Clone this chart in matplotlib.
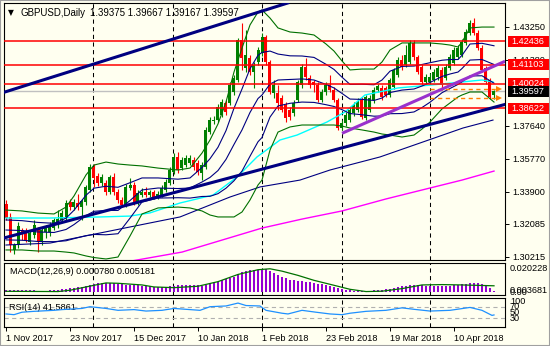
import numpy as np
import matplotlib
matplotlib.use("Agg")
import matplotlib.pyplot as plt
from matplotlib.patches import Rectangle

plt.rcParams['font.family'] = ['Liberation Sans', 'DejaVu Sans']
plt.rcParams['lines.scale_dashes'] = False

# ---------------- data ----------------
symbol = "GBPUSD,Daily"
quote = "1.39375 1.39667 1.39167 1.39597"

date_labels = ["1 Nov 2017", "23 Nov 2017", "15 Dec 2017", "10 Jan 2018",
               "1 Feb 2018", "23 Feb 2018", "19 Mar 2018", "10 Apr 2018"]
date_bars = [0, 16, 32, 48, 64, 80, 96, 112]
grid_bars = [21.8, 41.8, 64, 84, 106]

opens = [1.3320, 1.3247, 1.3060, 1.3088, 1.3173, 1.3167, 1.3105, 1.3145, 1.3173, 1.3105,
         1.3162, 1.3162, 1.3184, 1.3207, 1.3230, 1.3241, 1.3332, 1.3303, 1.3326, 1.3303,
         1.3332, 1.3400, 1.3530, 1.3479, 1.3439, 1.3439, 1.3388, 1.3473, 1.3388, 1.3343,
         1.3315, 1.3411, 1.3428, 1.3326, 1.3371, 1.3388, 1.3371, 1.3388, 1.3360, 1.3371,
         1.3400, 1.3439, 1.3502, 1.3587, 1.3524, 1.3541, 1.3553, 1.3570, 1.3553, 1.3496,
         1.3530, 1.3728, 1.3791, 1.3796, 1.3825, 1.3893, 1.3893, 1.3955, 1.4023, 1.4250,
         1.4091, 1.4148, 1.4068, 1.4125, 1.4176, 1.4267, 1.4125, 1.3949, 1.3949, 1.3921,
         1.3881, 1.3853, 1.3836, 1.3910, 1.3995, 1.4097, 1.4034, 1.4012, 1.3995, 1.3910,
         1.3955, 1.3995, 1.3966, 1.3910, 1.3751, 1.3779, 1.3796, 1.3836, 1.3853, 1.3910,
         1.3808, 1.3853, 1.3910, 1.3966, 1.3978, 1.3978, 1.3938, 1.3983, 1.4051, 1.4136,
         1.4108, 1.4125, 1.4233, 1.4153, 1.4097, 1.4012, 1.4012, 1.4023, 1.4040, 1.4080,
         1.4034, 1.4091, 1.4119, 1.4153, 1.4165, 1.4233, 1.4289, 1.4346, 1.4289, 1.4204,
         1.4091, 1.4023, 1.39375]
highs = [1.3343, 1.3269, 1.3099, 1.3218, 1.3184, 1.3184, 1.3167, 1.3230, 1.3190, 1.3184,
         1.3201, 1.3218, 1.3241, 1.3286, 1.3286, 1.3343, 1.3349, 1.3349, 1.3377, 1.3349,
         1.3428, 1.3547, 1.3547, 1.3496, 1.3490, 1.3456, 1.3485, 1.3496, 1.3405, 1.3360,
         1.3434, 1.3468, 1.3445, 1.3400, 1.3411, 1.3417, 1.3400, 1.3400, 1.3394, 1.3428,
         1.3462, 1.3530, 1.3609, 1.3615, 1.3587, 1.3598, 1.3598, 1.3587, 1.3570, 1.3558,
         1.3757, 1.3813, 1.3819, 1.3887, 1.3915, 1.3910, 1.4012, 1.4051, 1.4261, 1.4346,
         1.4306, 1.4165, 1.4125, 1.4210, 1.4289, 1.4278, 1.4136, 1.4023, 1.3995, 1.3938,
         1.3898, 1.3870, 1.3910, 1.4023, 1.4114, 1.4148, 1.4051, 1.4023, 1.4012, 1.3972,
         1.4012, 1.4051, 1.3983, 1.3921, 1.3796, 1.3842, 1.3870, 1.3898, 1.3921, 1.3927,
         1.3938, 1.3938, 1.3983, 1.4000, 1.3995, 1.3989, 1.4034, 1.4091, 1.4153, 1.4165,
         1.4221, 1.4250, 1.4250, 1.4165, 1.4114, 1.4057, 1.4063, 1.4085, 1.4108, 1.4097,
         1.4114, 1.4170, 1.4210, 1.4221, 1.4255, 1.4312, 1.4363, 1.4377, 1.4306, 1.4221,
         1.4102, 1.4034, 1.39667]
lows = [1.3230, 1.3048, 1.3037, 1.3071, 1.3116, 1.3105, 1.3088, 1.3128, 1.3048, 1.3088,
        1.3128, 1.3139, 1.3173, 1.3184, 1.3218, 1.3230, 1.3286, 1.3286, 1.3286, 1.3230,
        1.3315, 1.3388, 1.3417, 1.3422, 1.3422, 1.3371, 1.3377, 1.3371, 1.3326, 1.3303,
        1.3303, 1.3400, 1.3315, 1.3315, 1.3360, 1.3360, 1.3360, 1.3349, 1.3349, 1.3360,
        1.3388, 1.3428, 1.3490, 1.3496, 1.3513, 1.3530, 1.3541, 1.3513, 1.3485, 1.3456,
        1.3519, 1.3717, 1.3774, 1.3785, 1.3813, 1.3825, 1.3881, 1.3938, 1.4012, 1.4080,
        1.4068, 1.4051, 1.3978, 1.4108, 1.4159, 1.4108, 1.3944, 1.3921, 1.3853, 1.3842,
        1.3785, 1.3796, 1.3819, 1.3898, 1.3978, 1.4023, 1.3978, 1.3955, 1.3898, 1.3898,
        1.3938, 1.3955, 1.3898, 1.3740, 1.3740, 1.3762, 1.3785, 1.3819, 1.3842, 1.3802,
        1.3796, 1.3842, 1.3893, 1.3955, 1.3910, 1.3927, 1.3927, 1.3972, 1.4040, 1.4080,
        1.4097, 1.4114, 1.4136, 1.4057, 1.4000, 1.4000, 1.4000, 1.4012, 1.4023, 1.3966,
        1.4023, 1.4080, 1.4108, 1.4142, 1.4153, 1.4221, 1.4278, 1.4278, 1.4193, 1.4068,
        1.4000, 1.3915, 1.39167]
closes = [1.3241, 1.3088, 1.3088, 1.3196, 1.3150, 1.3116, 1.3156, 1.3201, 1.3105, 1.3173,
          1.3184, 1.3201, 1.3230, 1.3235, 1.3269, 1.3326, 1.3303, 1.3332, 1.3303, 1.3337,
          1.3417, 1.3530, 1.3468, 1.3439, 1.3473, 1.3388, 1.3473, 1.3388, 1.3343, 1.3315,
          1.3417, 1.3428, 1.3326, 1.3383, 1.3388, 1.3371, 1.3388, 1.3360, 1.3377, 1.3411,
          1.3445, 1.3513, 1.3587, 1.3513, 1.3570, 1.3581, 1.3581, 1.3530, 1.3502, 1.3541,
          1.3740, 1.3796, 1.3796, 1.3870, 1.3898, 1.3842, 1.3995, 1.4034, 1.4250, 1.4148,
          1.4165, 1.4068, 1.4108, 1.4193, 1.4267, 1.4125, 1.3955, 1.3995, 1.3893, 1.3853,
          1.3808, 1.3813, 1.3893, 1.4012, 1.4097, 1.4040, 1.3995, 1.3995, 1.3910, 1.3955,
          1.3995, 1.3966, 1.3910, 1.3751, 1.3779, 1.3825, 1.3853, 1.3881, 1.3898, 1.3813,
          1.3927, 1.3921, 1.3966, 1.3989, 1.3927, 1.3938, 1.4023, 1.4080, 1.4136, 1.4097,
          1.4165, 1.4233, 1.4153, 1.4068, 1.4012, 1.4040, 1.4040, 1.4068, 1.4091, 1.3995,
          1.4097, 1.4153, 1.4193, 1.4204, 1.4238, 1.4295, 1.4346, 1.4289, 1.4204, 1.4080,
          1.4012, 1.3927, 1.39597]

# Bollinger bands: outer (2 sd, green) and inner (1 sd + middle, navy), sampled per bar
band_bars = [0, 4, 8, 12, 15, 17, 20, 22, 25, 28, 31, 34, 38, 43, 46, 49, 51, 53, 55, 57,
             59, 61, 63, 64, 66, 68, 71, 74, 77, 80, 82, 84, 86, 89, 92, 94, 96, 99, 102,
             104, 106, 109, 111, 113, 114, 116, 119, 122]
bb_upper = [1.3286, 1.3281, 1.3269, 1.3264, 1.3303, 1.3366, 1.3485, 1.3541, 1.3558, 1.3547,
            1.3541, 1.3536, 1.3524, 1.3513, 1.3524, 1.3609, 1.3683, 1.3774, 1.3898, 1.4068,
            1.4204, 1.4335, 1.4408, 1.4420, 1.4374, 1.4318, 1.4295, 1.4289, 1.4278, 1.4227,
            1.4187, 1.4131, 1.4080, 1.4085, 1.4085, 1.4125, 1.4193, 1.4233, 1.4233, 1.4233,
            1.4233, 1.4227, 1.4221, 1.4210, 1.4238, 1.4318, 1.4323, 1.4323]
bb_upper1 = [1.3230, 1.3226, 1.3216, 1.3211, 1.3240, 1.3285, 1.3370, 1.3410, 1.3421, 1.3415,
             1.3441, 1.3468, 1.3468, 1.3461, 1.3468, 1.3527, 1.3577, 1.3642, 1.3736, 1.3863,
             1.3972, 1.4087, 1.4163, 1.4179, 1.4187, 1.4170, 1.4160, 1.4159, 1.4151, 1.4112,
             1.4083, 1.4039, 1.3998, 1.3999, 1.3996, 1.4023, 1.4073, 1.4100, 1.4102, 1.4111,
             1.4121, 1.4135, 1.4139, 1.4139, 1.4163, 1.4227, 1.4231, 1.4217]
bb_middle = [1.3173, 1.3170, 1.3162, 1.3159, 1.3176, 1.3204, 1.3255, 1.3279, 1.3284, 1.3284,
             1.3340, 1.3400, 1.3411, 1.3408, 1.3411, 1.3445, 1.3471, 1.3510, 1.3573, 1.3658,
             1.3740, 1.3839, 1.3918, 1.3938, 1.4000, 1.4023, 1.4026, 1.4029, 1.4023, 1.3998,
             1.3978, 1.3947, 1.3915, 1.3913, 1.3907, 1.3921, 1.3952, 1.3966, 1.3972, 1.3989,
             1.4009, 1.4043, 1.4057, 1.4068, 1.4088, 1.4136, 1.4139, 1.4111]
bb_lower1 = [1.3117, 1.3115, 1.3108, 1.3107, 1.3112, 1.3124, 1.3141, 1.3148, 1.3146, 1.3152,
             1.3240, 1.3332, 1.3354, 1.3356, 1.3354, 1.3363, 1.3364, 1.3379, 1.3410, 1.3452,
             1.3507, 1.3591, 1.3673, 1.3697, 1.3813, 1.3876, 1.3891, 1.3898, 1.3896, 1.3883,
             1.3873, 1.3855, 1.3833, 1.3826, 1.3818, 1.3819, 1.3832, 1.3833, 1.3842, 1.3867,
             1.3897, 1.3951, 1.3975, 1.3998, 1.4013, 1.4046, 1.4047, 1.4005]
bb_lower = [1.3060, 1.3060, 1.3054, 1.3054, 1.3048, 1.3043, 1.3026, 1.3017, 1.3009, 1.3020,
            1.3139, 1.3264, 1.3298, 1.3303, 1.3298, 1.3281, 1.3258, 1.3247, 1.3247, 1.3247,
            1.3275, 1.3343, 1.3428, 1.3456, 1.3626, 1.3728, 1.3757, 1.3768, 1.3768, 1.3768,
            1.3768, 1.3762, 1.3751, 1.3740, 1.3728, 1.3717, 1.3711, 1.3700, 1.3711, 1.3745,
            1.3785, 1.3859, 1.3893, 1.3927, 1.3938, 1.3955, 1.3955, 1.3898]

# moving averages
ma_cyan_bar = [0, 11, 23.5, 31, 36, 39.75, 43.5, 51.75, 57.75, 62.75, 68.5, 72.75, 80.25,
               84.75, 89.75, 98, 106.5, 119, 121.75]
ma_cyan = [1.3241, 1.3241, 1.3247, 1.3252, 1.3270, 1.3298, 1.3326, 1.3371, 1.3473, 1.3587,
           1.3683, 1.3711, 1.3785, 1.3842, 1.3938, 1.3978, 1.3995, 1.4023, 1.4012]
ma_slow_bar = [0, 11, 23.5, 36, 43.5, 56, 63.5, 73.5, 81, 93.5, 103.5, 114.25, 121.75]
ma_slow = [1.3088, 1.3099, 1.3156, 1.3213, 1.3247, 1.3360, 1.3417, 1.3456, 1.3513, 1.3587,
           1.3666, 1.3751, 1.3796]
ma_200_bar = [30, 44, 54, 64, 74, 84, 95, 106, 114, 122]
ma_200 = [1.2992, 1.3048, 1.3116, 1.3184, 1.3235, 1.3281, 1.3349, 1.3411, 1.3456, 1.3507]

# drawn objects
trend_upper = [(0, 1.3957), (68, 1.4442)]
trend_lower = [(0, 1.3131), (122, 1.3868)]
trend_channel = [(84, 1.3721), (124.75, 1.4129)]
red_levels = [1.42436, 1.41103, 1.40024, 1.38622]
last_price = 1.39597
order_levels = [1.3970, 1.3919]
order_start = 106
price_ticks = [1.43250, 1.41380, 1.37640, 1.35770, 1.33900, 1.32085, 1.30215]

# MACD(12,26,9)
macd_main = [0.0014, 0.0014, 0.0013, 0.0013, 0.0013, 0.0012, 0.0012, 0.0012, 0.0011, 0.0011,
             0.0011, 0.0012, 0.0015, 0.0018, 0.0022, 0.0026, 0.0030, 0.0034, 0.0038, 0.0042,
             0.0048, 0.0056, 0.0065, 0.0072, 0.0075, 0.0076, 0.0075, 0.0072, 0.0068, 0.0064,
             0.0062, 0.0060, 0.0058, 0.0056, 0.0054, 0.0050, 0.0048, 0.0045, 0.0042, 0.0042,
             0.0045, 0.0048, 0.0053, 0.0055, 0.0055, 0.0056, 0.0057, 0.0056, 0.0055, 0.0054,
             0.0062, 0.0070, 0.0078, 0.0088, 0.0098, 0.0106, 0.0118, 0.0130, 0.0150, 0.0168,
             0.0176, 0.0182, 0.0185, 0.0188, 0.0195, 0.0192, 0.0175, 0.0160, 0.0145, 0.0130,
             0.0118, 0.0105, 0.0098, 0.0096, 0.0094, 0.0088, 0.0082, 0.0076, 0.0070, 0.0064,
             0.0058, 0.0050, 0.0040, 0.0030, 0.0022, 0.0016, 0.0012, 0.0010, 0.0008, 0.0007,
             0.0008, 0.0010, 0.0012, 0.0015, 0.0018, 0.0022, 0.0028, 0.0035, 0.0042, 0.0048,
             0.0054, 0.0060, 0.0062, 0.0060, 0.0055, 0.0050, 0.0048, 0.0048, 0.0050, 0.0048,
             0.0050, 0.0054, 0.0058, 0.0062, 0.0066, 0.0070, 0.0075, 0.0078, 0.0076, 0.0068,
             0.0050, 0.0030, 0.00078]
macd_signal_bar = [0, 13, 16, 22, 25, 28, 34, 37, 42, 48, 53, 58, 63, 66, 69, 73, 77, 82,
                   86, 90, 94, 99, 104, 109, 114, 122]
macd_signal = [0.0005, 0.0003, 0.0014, 0.0056, 0.0076, 0.0073, 0.0059, 0.0042, 0.0036,
               0.0048, 0.0087, 0.0148, 0.0188, 0.0196, 0.0176, 0.0140, 0.0098, 0.0056,
               0.0022, 0.0003, 0.0006, 0.0028, 0.0059, 0.0062, 0.0059, 0.005181]

# RSI(14)
rsi_bar = [0, 2, 4, 7, 12, 14, 19, 21, 25, 28, 32, 35, 39, 42, 46, 48.5, 51, 55, 58, 60,
           63.5, 65, 69, 70.5, 74, 77.5, 81, 84, 86, 90, 95, 99, 102, 106, 111, 116, 119,
           121.5, 122]
rsi = [45, 42.5, 51, 54, 57.5, 60, 64, 70, 64, 57.5, 60, 55, 57.5, 64, 60, 57.5, 70, 72.5,
       82.5, 74, 72.5, 57.5, 47.5, 45, 57.5, 51, 45, 42.5, 47.5, 54, 57.5, 66, 61, 55, 57.5,
       67.5, 57.5, 40, 41.5861]

# ---------------- drawing ----------------
W, H, DPI = 550, 346, 100
BG = '#FFFFF0'
UP, DN = '#008000', '#FF0000'
NAVY = '#000080'
BAND = '#007000'
FS = 6.6
XMIN, XMAX = -0.5, 124.75

fig = plt.figure(figsize=(W / DPI, H / DPI), dpi=DPI, facecolor=BG)


def panel(top, bottom):
    a = fig.add_axes([4 / W, 1 - bottom / H, 501 / W, (bottom - top) / H])
    a.set_facecolor(BG)
    for s in a.spines.values():
        s.set_color('black')
        s.set_linewidth(0.8)
    a.set_xlim(XMIN, XMAX)
    a.yaxis.tick_right()
    a.tick_params(axis='y', length=3, width=0.7, pad=2, labelsize=FS, colors='black')
    a.tick_params(axis='x', bottom=False, labelbottom=False)
    for g in grid_bars:
        a.axvline(g, color='black', lw=0.75, ls=(0, (3, 2.5)), zorder=1)
    return a


ax = panel(3, 260)
am = panel(263, 294.5)
ar = panel(298, 327)

# price panel
ax.set_ylim(1.30031, 1.44593)
ax.set_yticks(price_ticks)
ax.set_yticklabels([f"{t:.5f}" for t in price_ticks])

for i, (o, h, l, c) in enumerate(zip(opens, highs, lows, closes)):
    col = UP if c >= o else DN
    ax.vlines(i, l, h, color=col, lw=0.8, zorder=3)
    lo = min(o, c)
    ax.add_patch(Rectangle((i - 0.375, lo), 0.75, max(abs(c - o), 0.0004),
                           facecolor=col, edgecolor='none', zorder=3))

ax.plot(ma_200_bar, ma_200, color='#FF00FF', lw=1.0, zorder=4)
ax.plot(ma_slow_bar, ma_slow, color=NAVY, lw=0.8, zorder=4)
ax.plot(ma_cyan_bar, ma_cyan, color='#00FFFF', lw=1.0, zorder=4)
for series in (bb_upper1, bb_middle, bb_lower1):
    ax.plot(band_bars, series, color=NAVY, lw=0.8, zorder=4)
for series in (bb_upper, bb_lower):
    ax.plot(band_bars, series, color=BAND, lw=0.8, zorder=4)

ax.axhline(last_price, color='#C0C0C0', lw=1.0, zorder=2)
for lv in red_levels:
    ax.axhline(lv, color='#FF0000', lw=1.1, zorder=5)
for lv in order_levels:
    ax.plot([order_start, XMAX - 1.6], [lv, lv], color='#FF7F00', lw=1.0,
            ls=(0, (3, 2.5)), zorder=5)
    ax.plot([XMAX - 1.6], [lv], marker='>', ms=4, color='#FF7F00', mew=0, zorder=5)

ax.axline(*trend_upper, color=NAVY, lw=2.2, zorder=6)
ax.axline(*trend_lower, color=NAVY, lw=2.2, zorder=6)
(x0, y0), (x1, y1) = trend_channel
ax.plot([x0, x1], [y0, y1], color='#9932CC', lw=2.2, zorder=6, solid_capstyle='butt')

fig.canvas.draw()


def fig_y(a, v):
    return a.transData.transform((0, v))[1] / H


for lv, fc in [(l_, '#FF0000') for l_ in red_levels] + [(last_price, 'black')]:
    yc = fig_y(ax, lv)
    fig.add_artist(Rectangle((508 / W, yc - 5.5 / H), 42 / W, 11 / H, transform=fig.transFigure,
                             facecolor=fc, edgecolor='none', zorder=10))
    fig.text(511 / W, yc, f"{lv:.5f}", color='white', fontsize=FS, va='center', ha='left',
             zorder=11)

# header
fig.text(8 / W, 1 - 12.5 / H, "\u25BC", fontsize=5.5, family='DejaVu Sans', va='center')
fig.text(20.5 / W, 1 - 12.8 / H, symbol, fontsize=7, va='center')
fig.text(90 / W, 1 - 12.8 / H, quote, fontsize=7, va='center')

# MACD panel
am.set_ylim(-0.0022, 0.0245)
am.set_yticks([])
am.bar(np.arange(len(macd_main)), macd_main, width=0.3, color='#9400D3', zorder=3)
am.plot(macd_signal_bar, macd_signal, color=BAND, lw=0.9, zorder=4)
am.text(0.012, 0.74, "MACD(12,26,9) 0.000780 0.005181", transform=am.transAxes,
        fontsize=FS, va='center')
yc = fig_y(am, 0.020228)
fig.text(510 / W, yc, "0.020228", fontsize=FS, va='center')
yc = fig_y(am, 0.0)
fig.text(510 / W, yc + 1.5 / H, "0.003681", fontsize=FS, va='center')
fig.text(510 / W, yc - 0.5 / H, "0.00", fontsize=FS, va='center')

# RSI panel
ar.set_ylim(0, 100)
ar.set_yticks([])
for lv in (70, 30):
    ar.axhline(lv, color='#B0B0B0', lw=0.8, ls=(0, (3, 2.5)), zorder=2)
ar.plot(rsi_bar, rsi, color='#1E90FF', lw=0.9, zorder=4)
ar.text(0.01, 0.66, "RSI(14) 41.5861", transform=ar.transAxes, fontsize=FS, va='center')
for lv, lab in [(88, "100"), (70, "70"), (50, "50"), (30, "30")]:
    fig.text(510 / W, fig_y(ar, lv), lab, fontsize=FS, va='center')

# time axis
ar.set_xticks(date_bars)
ar.set_xticklabels(date_labels, ha='left')
ar.tick_params(axis='x', bottom=True, labelbottom=True, length=3, width=0.7, pad=2,
               labelsize=FS)

# window frame
fig.add_artist(Rectangle((0, 0), 1, 1, transform=fig.transFigure, fill=False,
                         edgecolor='#A0A0A0', lw=1.5, zorder=20))

fig.savefig("out.png", dpi=DPI, facecolor=BG)
